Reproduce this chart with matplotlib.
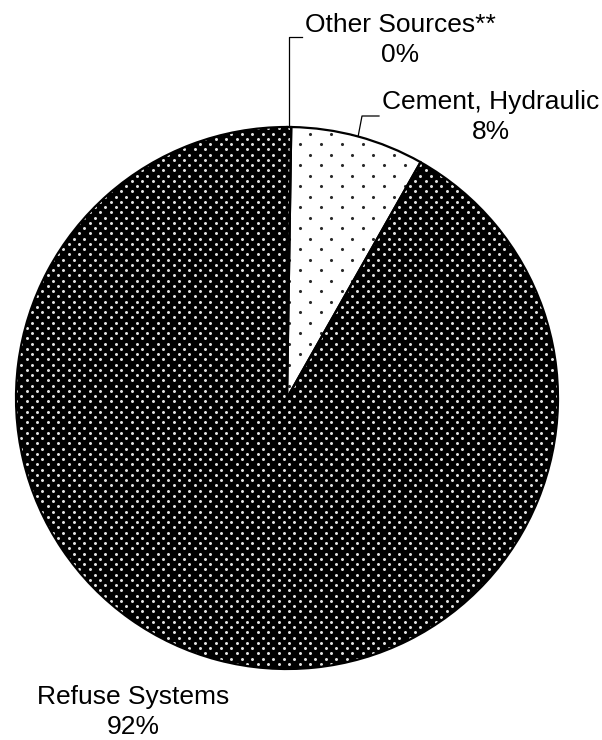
import numpy as np
import matplotlib
matplotlib.use('Agg')
import matplotlib.pyplot as plt
from matplotlib.patches import Wedge

plt.rcParams['font.family'] = ['Liberation Sans', 'DejaVu Sans']

categories = ['Other Sources**', 'Cement, Hydraulic', 'Refuse Systems']
values = [0.25, 7.95, 91.8]
pct_labels = ['0%', '8%', '92%']

face_colors = ['black', 'white', 'black']
dot_colors = ['#e6e6e6', '#2a2a2a', '#e6e6e6']
dot_pitch = [(10.5, 5.25), (21.0, 10.5), (10.5, 5.25)]
dot_sizes = [4.6, 5.0, 4.6]

fig = plt.figure(figsize=(6.02, 7.40), dpi=100)
ax = fig.add_axes([0, 0, 1, 1])

cx, cy, R = 287, 342, 271
wedges, _ = ax.pie(values, startangle=90, counterclock=False, center=(cx, cy),
                   radius=R, colors=face_colors, frame=True,
                   wedgeprops=dict(edgecolor='none', linewidth=0))
ax.set_xlim(0, 602)
ax.set_ylim(0, 740)
ax.set_aspect('equal')
ax.axis('off')


def dot_fill(wedge, pitch, color, size):
    px, py = pitch
    xs = np.arange(cx - R - px, cx + R + px, px)
    ys = np.arange(cy - R - py, cy + R + py, py)
    X, Y = np.meshgrid(xs, ys)
    X = X + (np.arange(len(ys))[:, None] % 2) * px / 2
    coll = ax.scatter(X.ravel(), Y.ravel(), s=size, c=color, linewidths=0,
                      marker='o', zorder=2)
    coll.set_clip_path(wedge)


for w, col, pitch, sz in zip(wedges, dot_colors, dot_pitch, dot_sizes):
    dot_fill(w, pitch, col, sz)

for w in wedges:
    ax.add_patch(Wedge(w.center, w.r, w.theta1, w.theta2, fill=False,
                       edgecolor='black', linewidth=1.6, zorder=3))

fs = 19
ls = 1.33


def mid_angle(i):
    w = wedges[i]
    return np.deg2rad((w.theta1 + w.theta2) / 2)


# Other Sources leader
a0 = mid_angle(0)
x0, y0 = cx + R * np.cos(a0), cy + R * np.sin(a0)
ax.plot([x0, x0, 302], [y0, 703, 703], color='black', lw=0.9, zorder=4)
ax.text(400, 678, categories[0] + '\n' + pct_labels[0], ha='center', va='baseline',
        fontsize=fs, linespacing=ls)

# Cement leader
a1 = mid_angle(1)
x1, y1 = cx + R * np.cos(a1), cy + R * np.sin(a1)
ax.plot([x1, 362, 379], [y1, 624, 624], color='black', lw=0.9, zorder=4)
ax.text(491, 601, categories[1] + '\n' + pct_labels[1], ha='center', va='baseline',
        fontsize=fs, linespacing=ls)

# Refuse label
ax.text(133, 6, categories[2] + '\n' + pct_labels[2], ha='center', va='baseline',
        fontsize=fs, linespacing=ls)

fig.savefig('out.png', dpi=100)
